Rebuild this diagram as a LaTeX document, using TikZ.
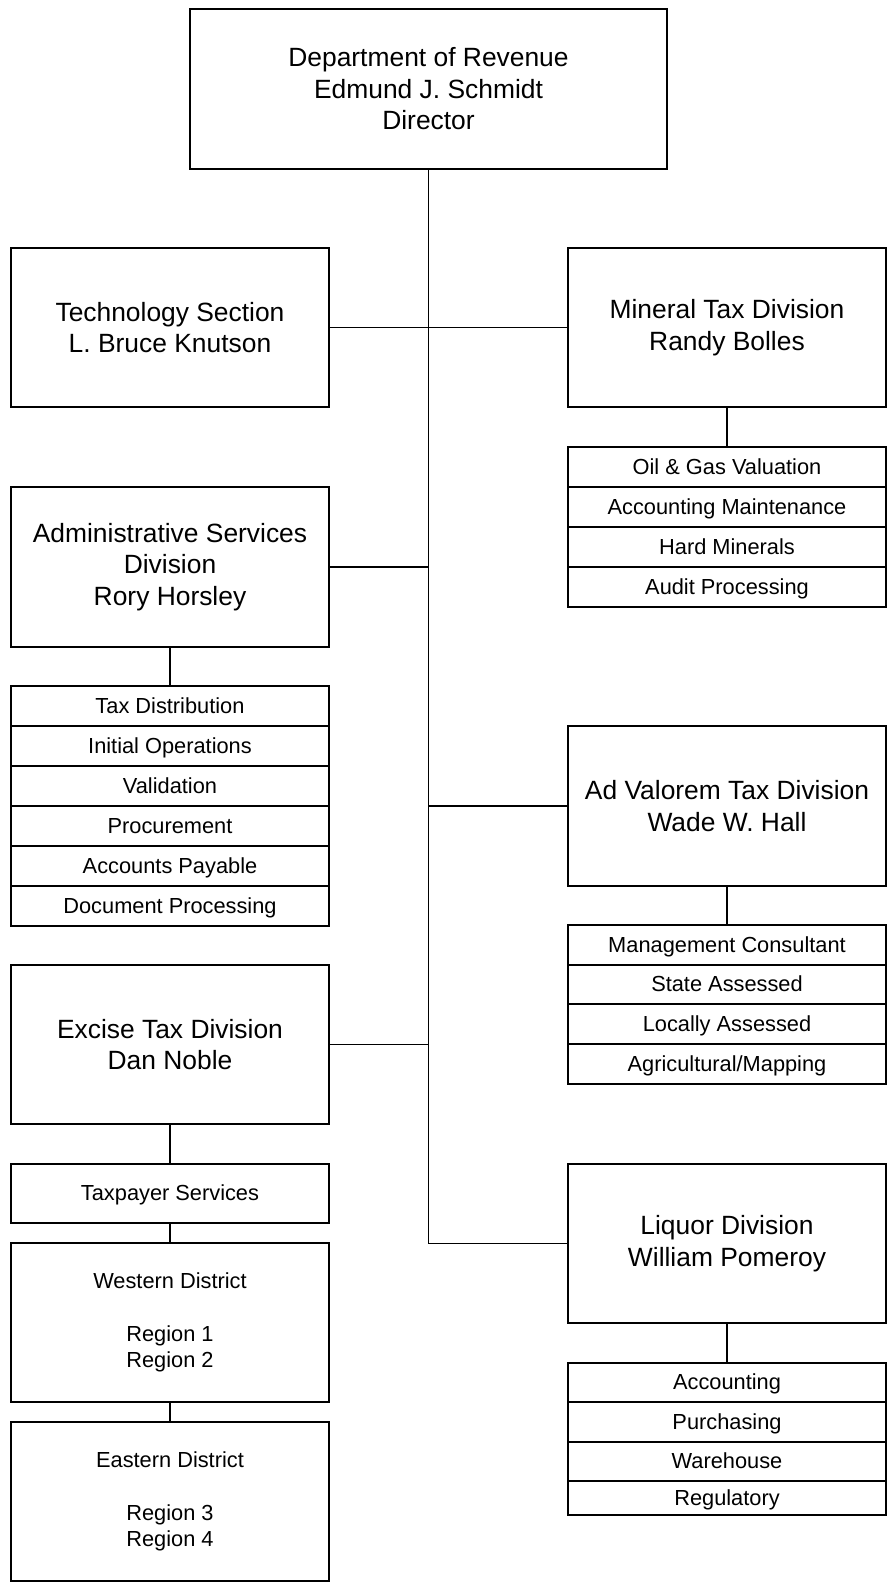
\documentclass[tikz,border=0pt]{standalone}
\usepackage{fontspec}
\setmainfont{Liberation Sans}
\begin{document}
\begin{tikzpicture}[x=1pt,y=-1pt,line width=1.2pt,
  box/.style={draw,anchor=north west,inner sep=0pt,outer sep=0pt,align=center},
  bigbox/.style={box,font=\fontsize{26.4}{31.5}\selectfont,minimum width=318pt,minimum height=159pt},
  smallbox/.style={box,font=\fontsize{21.8}{26.5}\selectfont,minimum width=318pt},
  row/.style={smallbox,minimum height=40pt,text height=17pt,text depth=3pt},
  link/.style={draw,line width=1.2pt}]
\useasboundingbox (0,0) rectangle (888,1583);
% top
\node[bigbox,minimum width=477pt,minimum height=160pt] (dept) at (190,9) {Department of Revenue\\Edmund J. Schmidt\\Director};
% left column
\node[bigbox] (tech) at (11,248) {Technology Section\\L. Bruce Knutson};
\node[bigbox,minimum height=160pt] (admin) at (11,487) {Administrative Services\\Division\\Rory Horsley};
\node[row] (a1) at (11,686) {Tax Distribution};
\node[row] (a2) at (11,726) {Initial Operations};
\node[row] (a3) at (11,766) {Validation};
\node[row] (a4) at (11,806) {Procurement};
\node[row] (a5) at (11,846) {Accounts Payable};
\node[row] (a6) at (11,886) {Document Processing};
\node[bigbox] (excise) at (11,965) {Excise Tax Division\\Dan Noble};
\node[row,minimum height=59pt] (taxp) at (11,1164) {Taxpayer Services};
\node[smallbox,minimum height=159pt] (west) at (11,1243) {Western District\\[26.5pt]Region 1\\Region 2};
\node[smallbox,minimum height=159pt] (east) at (11,1422) {Eastern District\\[26.5pt]Region 3\\Region 4};
% right column
\node[bigbox] (mineral) at (568,248) {Mineral Tax Division\\Randy Bolles};
\node[row] (m1) at (568,447) {Oil \& Gas Valuation};
\node[row] (m2) at (568,487) {Accounting Maintenance};
\node[row] (m3) at (568,527) {Hard Minerals};
\node[row] (m4) at (568,567) {Audit Processing};
\node[bigbox,minimum height=160pt] (adval) at (568,726) {Ad Valorem Tax Division\\Wade W. Hall};
\node[row,minimum height=40pt] (v1) at (568,925) {Management Consultant};
\node[row,minimum height=39pt] (v2) at (568,965) {State Assessed};
\node[row,minimum height=40pt] (v3) at (568,1004) {Locally Assessed};
\node[row,minimum height=40pt] (v4) at (568,1044) {Agricultural/Mapping};
\node[bigbox] (liquor) at (568,1164) {Liquor Division\\William Pomeroy};
\node[row,minimum height=39pt] (l1) at (568,1363) {Accounting};
\node[row,minimum height=40pt] (l2) at (568,1402) {Purchasing};
\node[row,minimum height=39pt] (l3) at (568,1442) {Warehouse};
\node[row,minimum height=34pt] (l4) at (568,1481) {Regulatory};
% trunk
\coordinate (tend) at (dept.south |- liquor.west);
\draw[link] (dept.south) -- (tend) -- (liquor.west);
\draw[link] (tech.east) -- (mineral.west);
\draw[link] (admin.east) -- (admin.east -| dept.south);
\draw[link] (adval.west -| dept.south) -- (adval.west);
\draw[link] (excise.east) -- (excise.east -| dept.south);
% sub connectors
\draw[link] (mineral.south) -- (m1.north);
\draw[link] (admin.south) -- (a1.north);
\draw[link] (adval.south) -- (v1.north);
\draw[link] (excise.south) -- (taxp.north);
\draw[link] (taxp.south) -- (west.north);
\draw[link] (west.south) -- (east.north);
\draw[link] (liquor.south) -- (l1.north);
\end{tikzpicture}
\end{document}
